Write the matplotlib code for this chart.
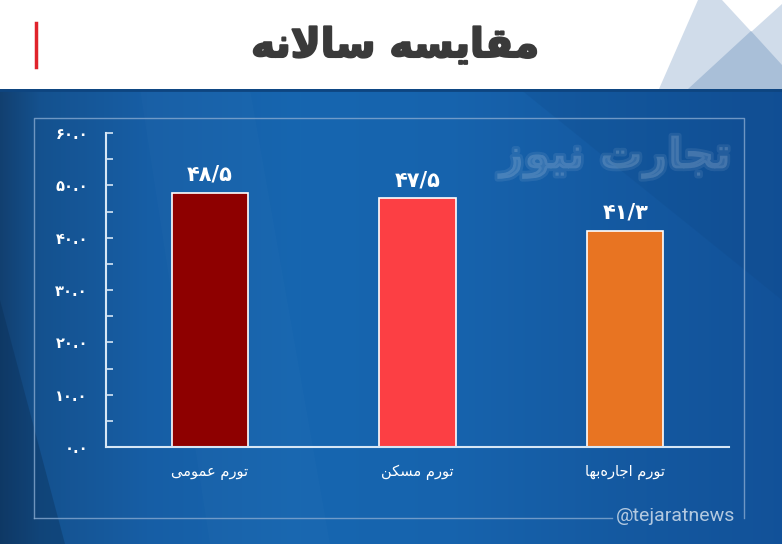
import numpy as np
import matplotlib
matplotlib.use('Agg')
import matplotlib.pyplot as plt
from matplotlib.patches import Polygon, Rectangle
import matplotlib.patheffects as pe

# data
categories = ['تورم عمومی', 'تورم مسکن', 'تورم اجاره‌بها']
values = [48.5, 47.5, 41.3]
value_labels = ['۴۸/۵', '۴۷/۵', '۴۱/۳']
bar_colors = ['#8e0000', '#fc3f44', '#e87422']
yticks = [0, 10, 20, 30, 40, 50, 60]
ytick_labels = ['۰.۰', '۱۰.۰', '۲۰.۰', '۳۰.۰', '۴۰.۰', '۵۰.۰', '۶۰.۰']
title = 'مقایسه سالانه'
watermark = 'تجارت نیوز'
handle = '@tejaratnews'

# matplotlib has no arabic shaping, so pick the presentation forms by hand
# (isolated, final, initial, medial)
FORMS = {
    '\u0627': ('\uFE8D', '\uFE8E', None, None),
    '\u0628': ('\uFE8F', '\uFE90', '\uFE91', '\uFE92'),
    '\u062A': ('\uFE95', '\uFE96', '\uFE97', '\uFE98'),
    '\u062C': ('\uFE9D', '\uFE9E', '\uFE9F', '\uFEA0'),
    '\u0631': ('\uFEAD', '\uFEAE', None, None),
    '\u0632': ('\uFEAF', '\uFEB0', None, None),
    '\u0633': ('\uFEB1', '\uFEB2', '\uFEB3', '\uFEB4'),
    '\u0639': ('\uFEC9', '\uFECA', '\uFECB', '\uFECC'),
    '\u0642': ('\uFED5', '\uFED6', '\uFED7', '\uFED8'),
    '\u0644': ('\uFEDD', '\uFEDE', '\uFEDF', '\uFEE0'),
    '\u0645': ('\uFEE1', '\uFEE2', '\uFEE3', '\uFEE4'),
    '\u0646': ('\uFEE5', '\uFEE6', '\uFEE7', '\uFEE8'),
    '\u0647': ('\uFEE9', '\uFEEA', '\uFEEB', '\uFEEC'),
    '\u0648': ('\uFEED', '\uFEEE', None, None),
    '\u06CC': ('\uFBFC', '\uFBFD', '\uFBFE', '\uFBFF'),
    '\u06A9': ('\uFB8E', '\uFB8F', '\uFB90', '\uFB91'),
}


def joins_fwd(c):
    return c in FORMS and FORMS[c][2] is not None


def shape(text):
    out = []
    i = 0
    n = len(text)
    while i < n:
        c = text[i]
        if c not in FORMS:
            if c != '\u200c':
                out.append(c)
            i += 1
            continue
        p = i > 0 and joins_fwd(text[i - 1])
        if c == '\u0644' and i + 1 < n and text[i + 1] == '\u0627':
            out.append('\uFEFC' if p else '\uFEFB')
            i += 2
            continue
        q = joins_fwd(c) and i + 1 < n and text[i + 1] in FORMS
        iso, fin, ini, med = FORMS[c]
        if p and q:
            out.append(med)
        elif p:
            out.append(fin)
        elif q:
            out.append(ini)
        else:
            out.append(iso)
        i += 1
    return ''.join(reversed(out))


W, H = 782, 544
fig = plt.figure(figsize=(W / 100, H / 100), dpi=100)

# background, in pixel coords
bg = fig.add_axes([0, 0, 1, 1])
bg.set_xlim(0, W)
bg.set_ylim(H, 0)
bg.axis('off')

stops_x = [0, 40, 150, 300, 450, 620, 782]
stops_c = [(0.07, 0.25, 0.44), (0.08, 0.32, 0.56), (0.09, 0.37, 0.65),
           (0.09, 0.40, 0.69), (0.09, 0.39, 0.68), (0.08, 0.35, 0.63),
           (0.07, 0.32, 0.60)]
xs = np.arange(W)
grad = np.zeros((1, W, 3))
for k in range(3):
    grad[0, :, k] = np.interp(xs, stops_x, [c[k] for c in stops_c])
bg.imshow(grad, extent=(0, W, H, 89), aspect='auto', zorder=0)
bg.add_patch(Polygon([(0, 300), (0, H), (65, H)], closed=True,
                     color='#0b2d52', alpha=0.35, lw=0, zorder=1))
bg.add_patch(Polygon([(140, 89), (250, 89), (330, H), (210, H)], closed=True,
                     color='white', alpha=0.015, lw=0, zorder=1))
bg.add_patch(Polygon([(520, 89), (782, 89), (782, 300)], closed=True,
                     color='#0a3a70', alpha=0.12, lw=0, zorder=1))
bg.plot([0, W], [90, 90], color='#0e4580', lw=2, zorder=1)

# white header band
bg.add_patch(Rectangle((0, 0), W, 89, color='white', lw=0, zorder=2))
bg.add_patch(Polygon([(659, 89), (698, 0), (722, 0), (782, 65), (782, 89)],
                     closed=True, color='#d0dcea', lw=0, zorder=3))
bg.add_patch(Polygon([(688, 89), (782, 4), (782, 89)],
                     closed=True, color='#d0dcea', lw=0, zorder=3))
bg.add_patch(Polygon([(688, 89), (751, 31), (782, 65), (782, 89)],
                     closed=True, color='#a9bfd8', lw=0, zorder=4))
bg.plot([36, 36], [23, 67], color='#e0232b', lw=2.5, zorder=5)
bg.text(395, 46, shape(title), fontsize=29, fontweight='bold', color='#3a3a3a',
        ha='center', va='center', zorder=5,
        path_effects=[pe.withStroke(linewidth=1.5, foreground='#3a3a3a')])

# frame
fc = '#86a9d0'
bg.plot([34, 34, 744, 744], [518, 118, 118, 518], color=fc, lw=1, alpha=0.8, zorder=2)
bg.plot([34, 612], [518, 518], color=fc, lw=1, alpha=0.8, zorder=2)
bg.text(676, 516, handle, fontsize=14, family='Roboto', color='#b3c9e0',
        ha='center', va='center', zorder=3)
bg.text(615, 157, shape(watermark), fontsize=31, fontweight='bold', color='white',
        alpha=0.08, ha='center', va='center', zorder=2,
        path_effects=[pe.withStroke(linewidth=4, foreground='white', alpha=0.08)])

# chart
ax = fig.add_axes([106 / W, (H - 447) / H, (729 - 106) / W, (447 - 133) / H])
ax.patch.set_alpha(0)
x = np.arange(len(categories))
bars = ax.bar(x, values, width=0.366, color=bar_colors, edgecolor='white', linewidth=1.2)
ax.bar_label(bars, labels=value_labels, padding=6, color='white', fontsize=15,
             fontweight='bold')
ax.set_xlim(-0.5, 2.5)
ax.set_ylim(0, 60)
ax.set_yticks(yticks)
ax.set_yticklabels(ytick_labels, color='white', fontsize=10.5, fontweight='bold')
ax.set_yticks(np.arange(5, 60, 10), minor=True)
ax.set_xticks(x)
ax.set_xticklabels([shape(c) for c in categories], color='white', fontsize=10.5)
ax.tick_params(axis='y', which='both', direction='in', length=5, width=1.2,
               color='#d6e6f5', pad=13)
ax.tick_params(axis='x', length=0, pad=13)
for s in ['top', 'right']:
    ax.spines[s].set_visible(False)
for s in ['left', 'bottom']:
    ax.spines[s].set_color('#d6e6f5')
    ax.spines[s].set_linewidth(1.5)

fig.savefig('out.png', dpi=100)
